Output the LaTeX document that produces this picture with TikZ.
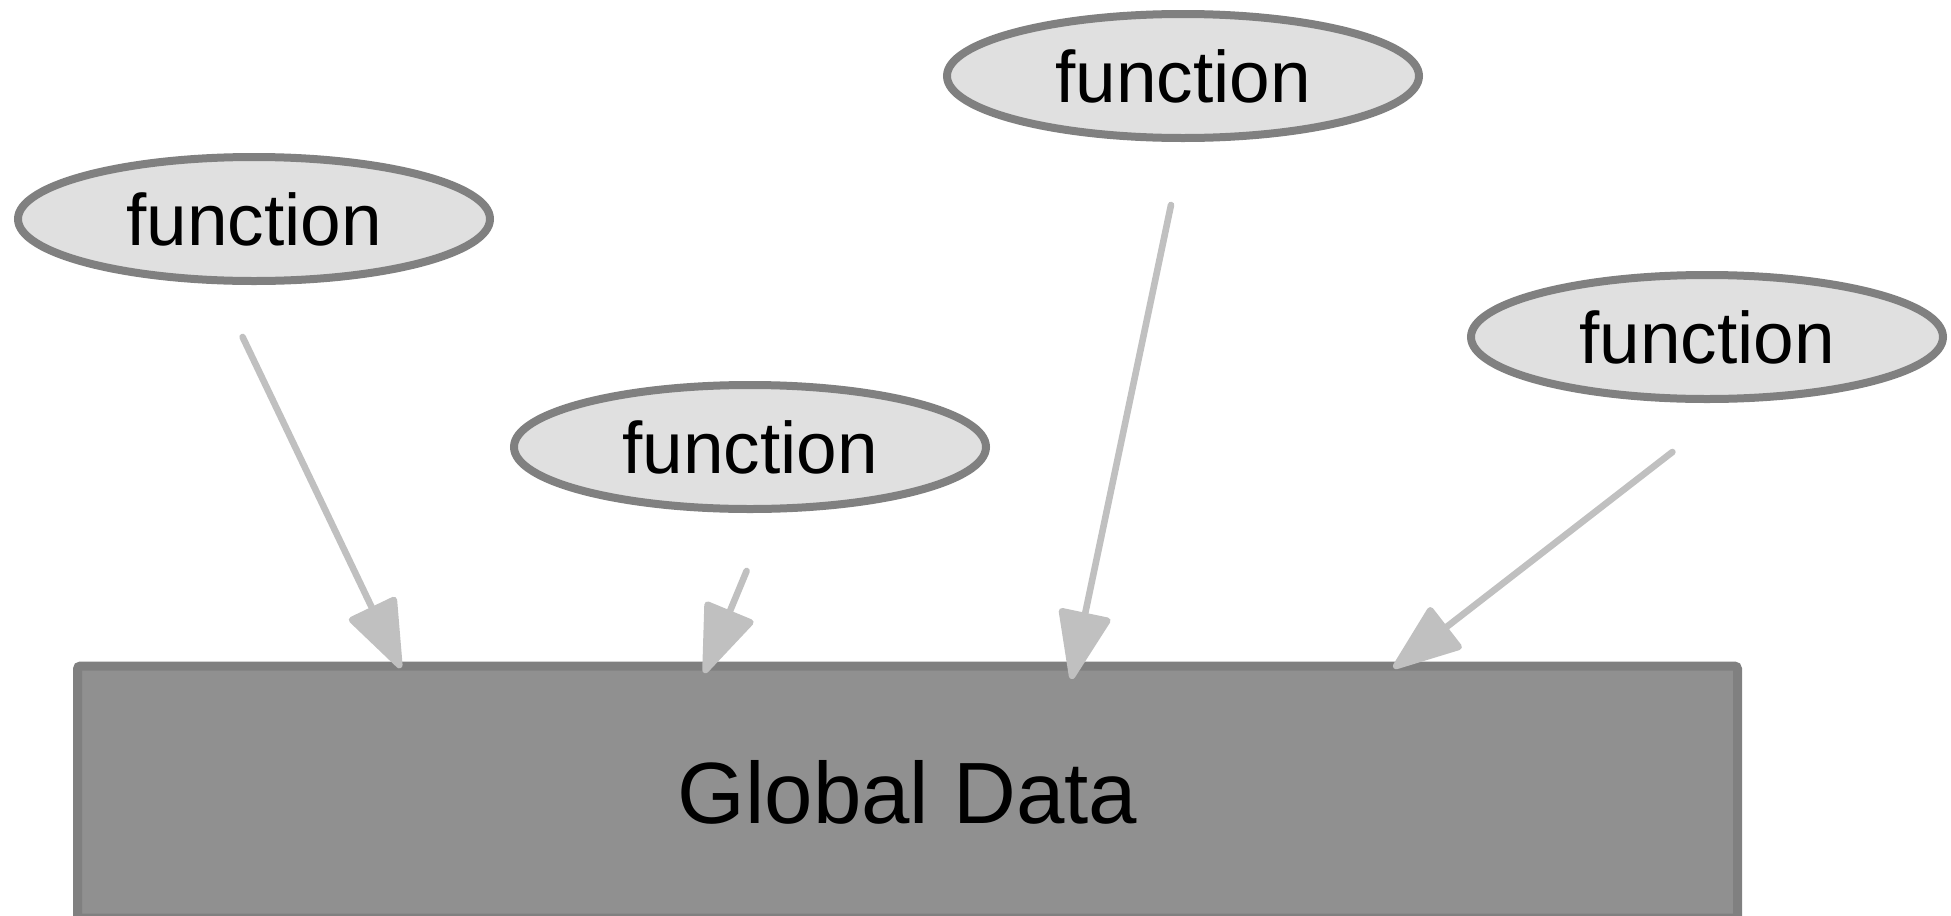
\documentclass[tikz,border=0pt]{standalone}
\usepackage{fontspec}
\setmainfont{Liberation Sans}
\usetikzlibrary{shapes.geometric,arrows.meta}
\definecolor{fnfill}{HTML}{E0E0E0}
\definecolor{edgegray}{HTML}{808080}
\definecolor{datafill}{HTML}{909090}
\definecolor{arrowgray}{HTML}{C0C0C0}
\tikzset{
  func/.style={ellipse, draw=edgegray, fill=fnfill, line width=4pt,
    minimum width=236pt, minimum height=62pt, inner sep=0pt,
    font=\fontsize{36.5}{40}\selectfont},
  datastore/.style={rectangle, draw=edgegray, fill=datafill, line width=4.5pt,
    rounded corners=1.5pt, minimum width=830pt, minimum height=126pt,
    inner sep=0pt, font=\fontsize{43.5}{50}\selectfont},
  access/.style={draw=arrowgray, line width=3.3pt, line cap=round,
    -{Triangle[length=37pt,width=27pt,round]}}
}
\begin{document}
\begin{tikzpicture}[x=0.5pt,y=-0.5pt]
  \useasboundingbox (0,0) rectangle (1951,916);

  % shared data block
  \node[datastore] (gd) at (907.5,792) {Global Data};

  % functions touching the shared data
  \node[func] (f1) at (254,219) {function};
  \node[func] (f2) at (750,447) {function};
  \node[func] (f3) at (1183,76) {function};
  \node[func] (f4) at (1707,337) {function};

  % connector ends
  \coordinate (a1s) at (242.6,337);  \coordinate (a1e) at (400.7,668);
  \coordinate (a2s) at (746.6,571);  \coordinate (a2e) at (704.3,673);
  \coordinate (a3s) at (1171,205);   \coordinate (a3e) at (1071.4,679);
  \coordinate (a4s) at (1672.4,452); \coordinate (a4e) at (1393.6,668);

  \draw[access] (a1s) -- (a1e);
  \draw[access] (a2s) -- (a2e);
  \draw[access] (a3s) -- (a3e);
  \draw[access] (a4s) -- (a4e);
\end{tikzpicture}
\end{document}
